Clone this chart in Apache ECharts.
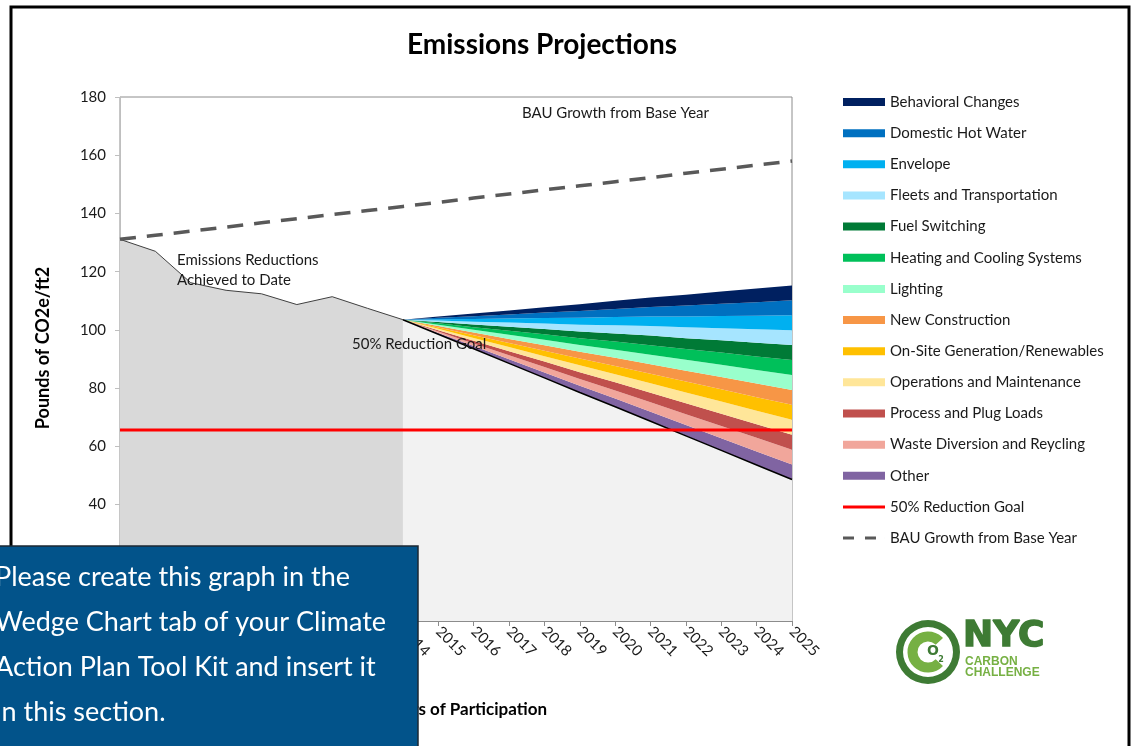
<!DOCTYPE html>
<html><head><meta charset="utf-8">
<script src="https://cdn.jsdelivr.net/npm/echarts@6/dist/echarts.min.js"></script>
<style>html,body{margin:0;padding:0;background:#fff}#c{width:1133px;height:746px}</style>
</head><body><div id="c"></div>
<script>
// ---- data ----
const years = ['2006','2007','2008','2009','2010','2011','2012','2013','2014','2015','2016','2017','2018','2019','2020','2021','2022','2023','2024','2025'];
// Achieved to date (2006-2014)
const achieved = [131.1, 127.0, 116.2, 113.6, 112.4, 108.7, 111.4, 107.4, 103.5];
// 50% reduction trajectory, bottom of the wedges (2014-2025)
const goalPath = [103.5, 98.5, 93.5, 88.5, 83.5, 78.5, 73.6, 68.6, 63.6, 58.6, 53.6, 48.6];
// thickness of each wedge (2014-2025)
const wedgeThickness = [0, 0.47, 0.93, 1.40, 1.87, 2.33, 2.80, 3.27, 3.73, 4.20, 4.66, 5.13];
// BAU growth from base year (2006-2025)
const bau = [131.1, 132.5, 133.9, 135.3, 136.8, 138.2, 139.6, 141.0, 142.4, 143.8, 145.3, 146.7, 148.1, 149.5, 150.9, 152.3, 153.8, 155.2, 156.6, 158.0];
// 50% reduction goal (2006-2025)
const goal = [65.6, 65.6, 65.6, 65.6, 65.6, 65.6, 65.6, 65.6, 65.6, 65.6, 65.6, 65.6, 65.6, 65.6, 65.6, 65.6, 65.6, 65.6, 65.6, 65.6];
// wedges, listed bottom to top
const wedgeNames = ['Other','Waste Diversion and Reycling','Process and Plug Loads','Operations and Maintenance','On-Site Generation/Renewables','New Construction','Lighting','Heating and Cooling Systems','Fuel Switching','Fleets and Transportation','Envelope','Domestic Hot Water','Behavioral Changes'];
const wedgeColors = ['#8064A2','#F1A69B','#C0504D','#FFE699','#FFC000','#F79646','#99FFCC','#00C05A','#007A36','#A6E5FF','#00B0F0','#0070C0','#002060'];
const yTicks = {min: 0, max: 180, step: 20};

// ---- build ----
const startIdx = years.indexOf('2014');
const pad = (arr, from) => years.map((y, i) => (i >= from && i - from < arr.length) ? arr[i - from] : '-');
const FONT = 'Lato';
const TXT = '#1a1a1a';

const series = [];
series.push({
  name: 'Achieved', type: 'line', data: pad(achieved, 0), symbol: 'none',
  lineStyle: {color: '#404040', width: 1}, areaStyle: {color: '#D9D9D9', opacity: 1}, z: 2
});
series.push({
  name: 'Goal Path', type: 'line', stack: 'w', data: pad(goalPath, startIdx), symbol: 'none',
  lineStyle: {color: '#000', width: 1.5}, areaStyle: {color: '#F2F2F2', opacity: 1}, z: 2
});
wedgeNames.forEach((n, k) => {
  series.push({
    name: n, type: 'line', stack: 'w', data: pad(wedgeThickness, startIdx), symbol: 'none',
    itemStyle: {color: wedgeColors[k]}, lineStyle: {width: 0, color: wedgeColors[k]},
    areaStyle: {color: wedgeColors[k], opacity: 1}, z: 1
  });
});
series.push({
  name: '50% Reduction Goal', type: 'line', data: goal, symbol: 'none',
  itemStyle: {color: '#FF0000'}, lineStyle: {color: '#FF0000', width: 3}, z: 5
});
series.push({
  name: 'BAU Growth from Base Year', type: 'line', data: bau, symbol: 'none',
  itemStyle: {color: '#595959'}, lineStyle: {color: '#595959', width: 3.5, type: [16, 11]}, z: 5
});

const wedgeLegend = wedgeNames.slice().reverse().map(n => ({name: n, icon: 'rect'}));
const ROW = 31.15;
const legendTop = 94;

const Z = 100;
const txt = (x, y, text, font, extra) => Object.assign({type: 'text', x: x, y: y, z: Z,
  style: Object.assign({text: text, font: font, fill: TXT, textVerticalAlign: 'middle'}, extra || {})});

const chart = echarts.init(document.getElementById('c'), null, {renderer: 'canvas'});
chart.setOption({
  animation: false,
  backgroundColor: '#fff',
  textStyle: {fontFamily: FONT},
  grid: {left: 120, top: 97, right: 341, bottom: 125, show: true, borderColor: '#8C8C8C', borderWidth: 1, backgroundColor: 'transparent'},
  legend: [{
    orient: 'vertical', left: 843, top: legendTop, padding: 0, itemWidth: 42, itemHeight: 8, itemGap: ROW - 16,
    textStyle: {fontFamily: FONT, fontSize: 15, color: TXT, lineHeight: 16},
    data: wedgeLegend, selectedMode: false
  }, {
    orient: 'vertical', left: 843, top: legendTop + 13 * ROW, padding: 0, itemWidth: 42, itemHeight: 3, itemGap: ROW - 16,
    textStyle: {fontFamily: FONT, fontSize: 15, color: TXT, lineHeight: 16},
    symbolKeepAspect: false,
    data: [
      {name: '50% Reduction Goal', icon: 'rect'},
      {name: 'BAU Growth from Base Year', icon: 'path://M0,0H11V3H0Z M22,0H33V3H22Z M42,0H42.01V3H42Z'}
    ], selectedMode: false
  }],
  xAxis: {
    type: 'category', data: years, boundaryGap: false,
    axisLine: {lineStyle: {color: '#8C8C8C'}},
    axisTick: {show: true, length: 5, interval: 0, lineStyle: {color: '#8C8C8C'}},
    axisLabel: {rotate: -45, interval: 0, fontSize: 15, color: TXT, margin: 8, fontFamily: FONT},
    splitLine: {show: false}
  },
  yAxis: {
    type: 'value', min: yTicks.min, max: yTicks.max, interval: yTicks.step,
    axisLine: {show: true, lineStyle: {color: '#BFBFBF'}},
    axisTick: {show: true, length: 5, lineStyle: {color: '#BFBFBF'}},
    axisLabel: {fontSize: 15, color: TXT, margin: 14, fontFamily: FONT},
    splitLine: {show: false}
  },
  series: series,
  graphic: [
    {type: 'rect', z: Z, silent: true, shape: {x: 11, y: 7, width: 1118, height: 800}, style: {fill: 'none', stroke: '#000', lineWidth: 3}},
    txt(542, 45, 'Emissions Projections', 'bold 28px Lato', {fill: '#000', textAlign: 'center'}),
    Object.assign(txt(43, 348, 'Pounds of CO2e/ft2', 'bold 18px Lato', {fill: '#000', textAlign: 'center'}), {rotation: Math.PI / 2}),
    txt(547, 710, 'Years of Participation', 'bold 17px Lato', {fill: '#000', textAlign: 'right'}),
    txt(522, 113, 'BAU Growth from Base Year', '15px Lato'),
    txt(177, 260, 'Emissions Reductions', '15px Lato'),
    txt(177, 280, 'Achieved to Date', '15px Lato'),
    txt(352, 344, '50% Reduction Goal', '15px Lato'),
    // logo
    {type: 'ring', z: Z, shape: {cx: 928, cy: 652, r: 32, r0: 25}, style: {fill: '#3E7B34'}},
    {type: 'arc', z: Z, shape: {cx: 928, cy: 652, r: 15.5, startAngle: 0.75, endAngle: Math.PI * 2 - 0.75, clockwise: true}, style: {stroke: '#76B043', lineWidth: 10, fill: 'none'}},
    txt(933, 651, 'O', 'bold 14px "DejaVu Sans"', {fill: '#3E7B34', textAlign: 'center'}),
    txt(941, 660, '2', 'bold 8px "DejaVu Sans"', {fill: '#3E7B34', textAlign: 'center'}),
    txt(963, 637, 'NYC', 'bold 36px "DejaVu Sans"', {fill: '#3E7B34', stroke: '#3E7B34', lineWidth: 1.5}),
    txt(965, 662, 'CARBON', 'bold 12px "Liberation Sans"', {fill: '#76B043'}),
    txt(965, 673, 'CHALLENGE', 'bold 12px "Liberation Sans"', {fill: '#76B043'}),
    // overlay note box
    {type: 'rect', z: Z + 10, shape: {x: -2, y: 546, width: 420, height: 220}, style: {fill: '#02538A', stroke: '#1c2833', lineWidth: 1.5}},
    Object.assign(txt(-5, 577, 'Please create this graph in the', '27px Lato', {fill: '#fff'}), {z: Z + 11}),
    Object.assign(txt(-5, 622, 'Wedge Chart tab of your Climate', '27px Lato', {fill: '#fff'}), {z: Z + 11}),
    Object.assign(txt(-5, 667, 'Action Plan Tool Kit and insert it', '27px Lato', {fill: '#fff'}), {z: Z + 11}),
    Object.assign(txt(-5, 712, 'in this section.', '27px Lato', {fill: '#fff'}), {z: Z + 11})
  ]
});
</script>
</body></html>
